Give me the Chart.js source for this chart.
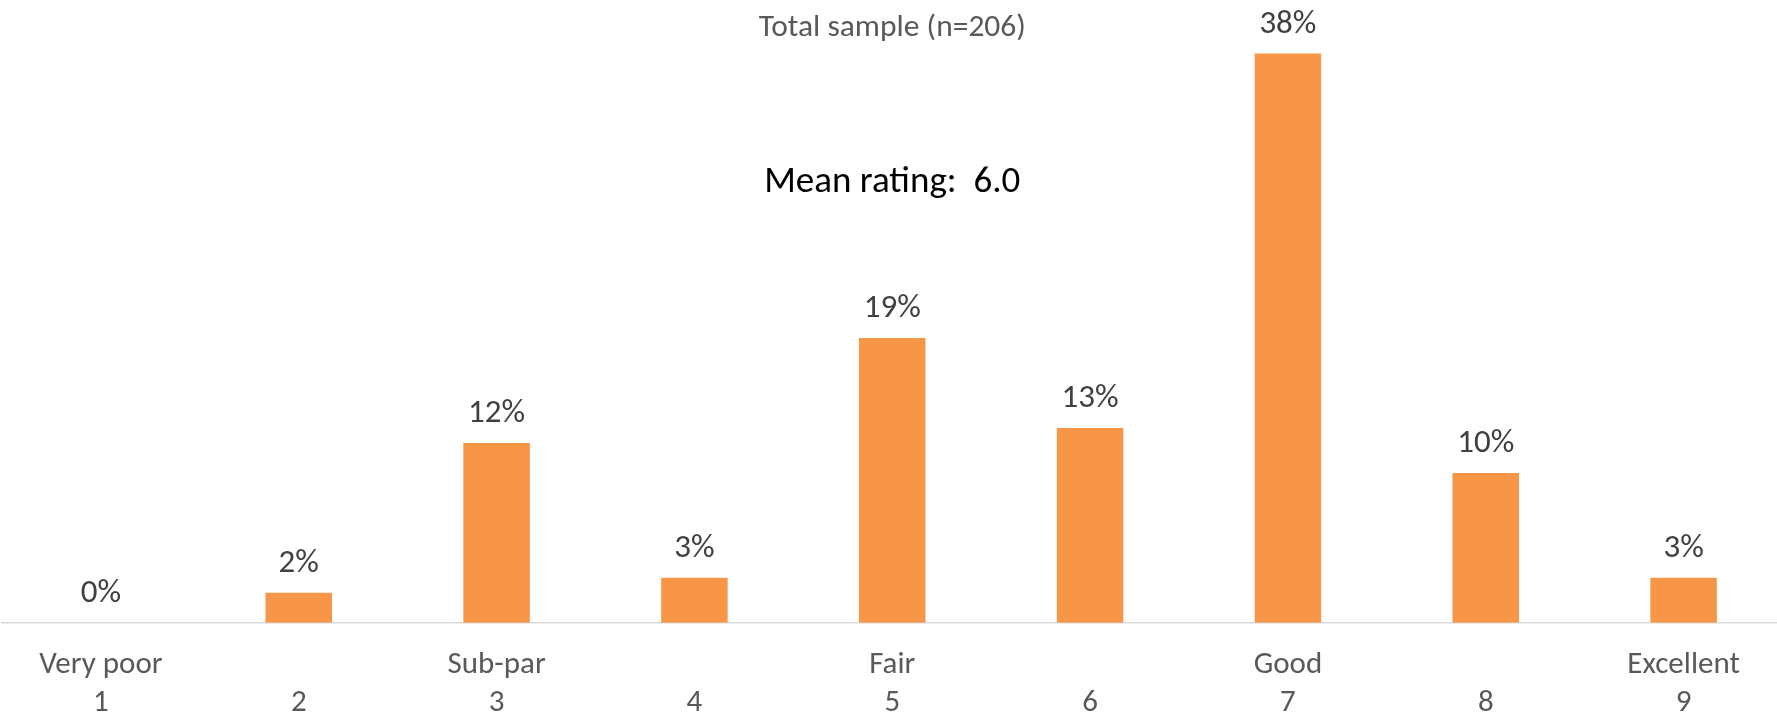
<!DOCTYPE html>
<html>
<head>
<meta charset="utf-8">
<script src="https://cdn.jsdelivr.net/npm/chart.js@4/dist/chart.umd.min.js"></script>
<style>
  html, body { margin: 0; padding: 0; background: #ffffff; overflow: hidden; }
  #wrap { position: relative; width: 1777px; height: 714px; overflow: hidden; }
  canvas { display: block; }
</style>
</head>
<body>
<div id="wrap"><canvas id="c" width="1783" height="714"></canvas></div>
<script>
// ---- data ----
const categories = ['1', '2', '3', '4', '5', '6', '7', '8', '9'];
const ratingNames = ['Very poor', '', 'Sub-par', '', 'Fair', '', 'Good', '', 'Excellent'];
const percentValues = [0, 2, 12, 3, 19, 13, 38, 10, 3];
const chartTitle = 'Total sample (n=206)';
const meanNote = 'Mean rating:  6.0';

const FONT = 'Carlito, Calibri, Lato, sans-serif';

const textPlugin = {
  id: 'texts',
  afterDatasetsDraw(chart) {
    const ctx = chart.ctx;
    const meta = chart.getDatasetMeta(0);
    ctx.save();
    ctx.textAlign = 'center';
    ctx.textBaseline = 'alphabetic';
    ctx.fillStyle = '#404040';
    ctx.font = '33px ' + FONT;
    meta.data.forEach((bar, i) => {
      ctx.fillText(percentValues[i] + '%', bar.x, bar.y - 20.7);
    });
    const cx = (chart.chartArea.left + chart.chartArea.right) / 2;
    ctx.fillStyle = '#595959';
    ctx.font = '31.5px ' + FONT;
    ctx.fillText(chartTitle, cx, 36);
    ctx.fillStyle = '#000000';
    ctx.font = '37px ' + FONT;
    ctx.fillText(meanNote, cx, 192);
    ctx.restore();
  }
};

new Chart(document.getElementById('c'), {
  type: 'bar',
  data: {
    labels: categories.map((c, i) => [ratingNames[i], c]),
    datasets: [{
      data: percentValues,
      backgroundColor: '#F79646',
      borderWidth: 0,
      categoryPercentage: 1,
      barPercentage: 0.336
    }]
  },
  options: {
    responsive: false,
    animation: false,
    events: [],
    layout: { padding: { top: 23.5, left: 2, right: 0.5, bottom: 0 } },
    plugins: {
      legend: { display: false },
      tooltip: { enabled: false },
      title: { display: false }
    },
    scales: {
      x: {
        grid: { display: false, drawTicks: false },
        border: { display: true, color: '#D9D9D9', width: 1.5 },
        ticks: {
          color: '#595959',
          font: { family: FONT, size: 31, lineHeight: 1.226 },
          padding: 24,
          maxRotation: 0,
          autoSkip: false
        },
        afterFit(scale) { scale.height = 91.3; }
      },
      y: {
        display: false,
        min: 0,
        max: 40
      }
    }
  },
  plugins: [textPlugin]
});
</script>
</body>
</html>
